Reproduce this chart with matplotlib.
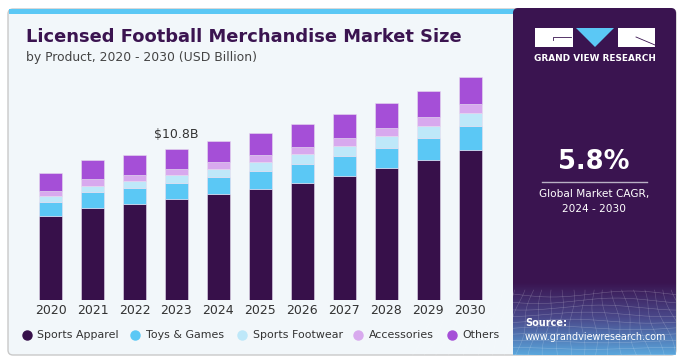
import numpy as np
import matplotlib
matplotlib.use("Agg")
import matplotlib.pyplot as plt
from matplotlib.patches import FancyBboxPatch, Rectangle, Polygon
from matplotlib.colors import LinearSegmentedColormap

# data (USD Billion)
years = ["2020", "2021", "2022", "2023", "2024", "2025", "2026", "2027", "2028", "2029", "2030"]
sports_apparel = [6.00, 6.57, 6.83, 7.19, 7.54, 7.92, 8.35, 8.83, 9.40, 9.99, 10.73]
toys_games = [0.98, 1.12, 1.16, 1.14, 1.24, 1.31, 1.38, 1.47, 1.47, 1.59, 1.69]
sports_footwear = [0.45, 0.47, 0.52, 0.59, 0.59, 0.64, 0.69, 0.71, 0.84, 0.86, 0.95]
accessories = [0.36, 0.46, 0.41, 0.43, 0.50, 0.48, 0.52, 0.55, 0.57, 0.62, 0.64]
others = [1.26, 1.38, 1.41, 1.45, 1.48, 1.57, 1.62, 1.71, 1.76, 1.86, 1.91]
series_names = ["Sports Apparel", "Toys & Games", "Sports Footwear", "Accessories", "Others"]
series_colors = ["#37104a", "#5bc8f5", "#bee8f9", "#d8a9ee", "#a54fd7"]
callout_year = "2023"
callout_text = "$10.8B"

W, H = 684, 363
fig = plt.figure(figsize=(W / 100, H / 100), dpi=100)
fig.patch.set_facecolor("white")

# background canvas in pixel coords (y down)
bg = fig.add_axes([0, 0, 1, 1])
bg.set_xlim(0, W)
bg.set_ylim(H, 0)
bg.axis("off")

bg.add_patch(FancyBboxPatch((8, 9), 668, 346, boxstyle="round,pad=0,rounding_size=5",
                            facecolor="#f2f7fa", edgecolor="#c9c9c9", lw=1))
bg.add_patch(Rectangle((9, 9), 505, 4.5, facecolor="#5bc8f5", lw=0))

# right panel
bg.add_patch(FancyBboxPatch((513, 8), 163, 347, boxstyle="round,pad=0,rounding_size=5",
                            facecolor="#3a1450", edgecolor="none"))
cmap = LinearSegmentedColormap.from_list("pan", ["#3a1450", "#4a4a8c", "#5aa6dc"])
grad = np.linspace(0, 1, 100).reshape(-1, 1)
bg.imshow(grad, extent=(513, 676, 355, 282), aspect="auto", cmap=cmap, zorder=1)
# grid texture
gx = np.linspace(513, 676, 200)
for k in range(10):
    yy = 294 + k * 6.8 + 3 * np.sin((gx - 513) / 25 + k * 0.6) * (1 - k / 12)
    bg.plot(gx, yy, color="white", lw=0.4, alpha=0.25, zorder=2)
for k in range(-6, 20):
    x0 = 513 + k * 10
    ys = np.linspace(290, 355, 40)
    xs = x0 + (ys - 290) * (k - 7) * 0.05 + 2 * np.sin(ys / 9 + k)
    bg.plot(xs, ys, color="white", lw=0.4, alpha=0.22, zorder=2)
bg.set_xlim(0, W)
bg.set_ylim(H, 0)

# logo
bg.add_patch(Rectangle((535, 28), 38, 19, facecolor="white", lw=0, zorder=3))
bg.plot([553, 553, 571], [40, 37, 37], color="#3a1450", lw=0.6, zorder=4)
bg.add_patch(Polygon([[576, 28], [614, 28], [595, 47]], closed=True, facecolor="#5bc8f5", lw=0, zorder=3))
bg.add_patch(Rectangle((618, 28), 37, 19, facecolor="white", lw=0, zorder=3))
bg.plot([636, 655, 655], [37, 45, 45], color="#3a1450", lw=0.6, zorder=4)
bg.text(595, 58.5, "GRAND VIEW RESEARCH", color="white",
        fontsize=6.4, fontweight="bold", ha="center", va="center", zorder=4)

bg.text(594, 162, "5.8%", color="white", fontsize=18.5, fontweight="bold", ha="center", va="center", zorder=4)
bg.plot([542, 647], [181.5, 181.5], color="#b9b0c4", lw=1, zorder=4)
bg.text(594, 194, "Global Market CAGR,", color="white", fontsize=7.6, ha="center", va="center", zorder=4)
bg.text(594, 209, "2024 - 2030", color="white", fontsize=7.6, ha="center", va="center", zorder=4)
bg.text(525, 323, "Source:", color="white", fontsize=7, fontweight="bold", ha="left", va="center", zorder=4)
bg.text(525, 337, "www.grandviewresearch.com", color="white", fontsize=6.9, ha="left", va="center", zorder=4)

# titles
bg.text(26, 37, "Licensed Football Merchandise Market Size", color="#3b1450", fontsize=12.9,
        fontweight="heavy", ha="left", va="center")
bg.text(26, 57, "by Product, 2020 - 2030 (USD Billion)", color="#444444", fontsize=8.9,
        ha="left", va="center")

# chart axes: bars 0..10 centred between 50.5px and 470.2px, baseline at 300px
ax_l, ax_r, ax_b, ax_t = 20, 500, 300, 70
ax = fig.add_axes([ax_l / W, (H - ax_b) / H, (ax_r - ax_l) / W, (ax_b - ax_t) / H])
ax.patch.set_alpha(0)
step = (470.2 - 50.5) / 10
ax.set_xlim(-(50.5 - ax_l) / step, 10 + (ax_r - 470.2) / step)
ax.set_ylim(0, (ax_b - ax_t) / 14.01)

x = np.arange(len(years))
bottom = np.zeros(len(years))
for vals, name, col in zip([sports_apparel, toys_games, sports_footwear, accessories, others],
                           series_names, series_colors):
    ax.bar(x, vals, 0.548, bottom=bottom, color=col, edgecolor="#e6dcef", linewidth=0.4, label=name)
    bottom += np.array(vals)

i = years.index(callout_year)
ax.text(x[i], bottom[i] + 0.55, callout_text, ha="center", va="bottom", fontsize=9, color="#333333")

ax.set_xticks(x)
ax.set_xticklabels(years, fontsize=9, color="#333333")
ax.tick_params(axis="x", length=0, pad=3)
ax.set_yticks([])
for s in ax.spines.values():
    s.set_visible(False)

# legend
dot_x = [26.7, 135.3, 242.3, 358.3, 451.7]
for dx, name, col in zip(dot_x, series_names, series_colors):
    bg.plot(dx, 334.5, "o", ms=6.5, color=col, zorder=5)
    bg.text(dx + 10.5, 334.5, name, fontsize=7.9, color="#333333", ha="left", va="center")

fig.savefig("out.png", dpi=100)
